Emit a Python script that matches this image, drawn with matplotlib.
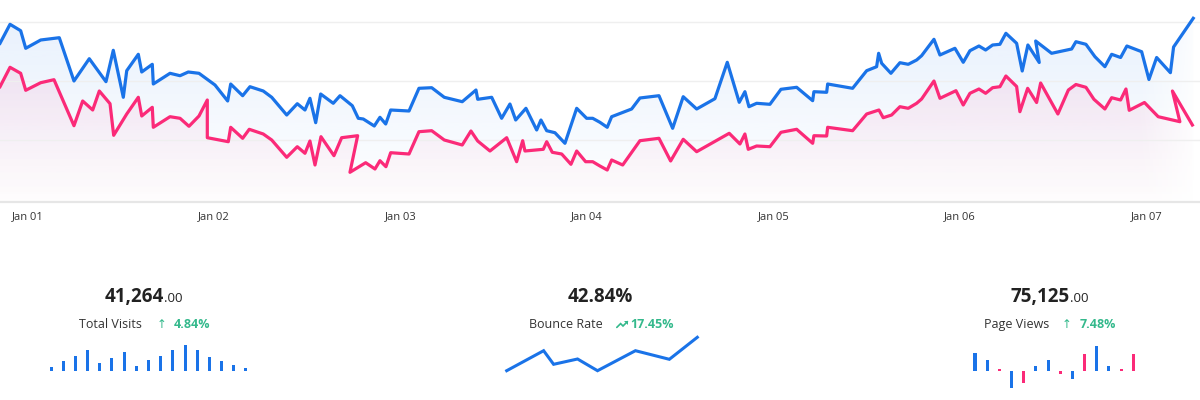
import numpy as np
import matplotlib
matplotlib.use("Agg")
import matplotlib.pyplot as plt
from matplotlib.patches import Polygon
from matplotlib.colors import to_rgb

plt.rcParams['font.family'] = ['Open Sans', 'DejaVu Sans']

# main chart: hours since Jan 01 00:00 and values (gridlines at 59 / 118 / 177)
visits_t = [-3.54, -2.25, -0.88, -0.23, 1.70, 4.09, 5.98, 7.95, 10.10, 11.04,
            12.33, 12.77, 14.26, 14.70, 16.06, 16.19, 18.34, 19.63, 20.69, 22.07,
            24.13, 25.76, 26.15, 27.69, 28.63, 30.34, 31.43, 33.36, 34.72, 35.71,
            36.35, 37.09, 37.73, 39.35, 40.22, 41.80, 42.57, 43.21, 44.63, 45.36,
            46.10, 46.74, 49.10, 50.38, 52.02, 53.64, 55.95, 57.72, 57.94, 59.74,
            61.02, 62.09, 62.83, 64.15, 65.53, 66.08, 66.82, 67.88, 69.17, 70.68,
            71.96, 72.74, 73.67, 74.61, 75.18, 77.75, 78.82, 81.27, 83.03, 84.39,
            86.12, 88.47, 90.06, 91.60, 92.33, 92.85, 93.84, 95.55, 96.97, 98.99,
            101.05, 101.21, 102.85, 102.98, 106.19, 108.00, 109.28, 109.54, 109.93, 111.12,
            112.28, 113.35, 114.43, 115.07, 116.66, 117.43, 119.36, 120.43, 121.29, 122.45,
            123.31, 124.21, 125.15, 125.92, 127.30, 128.02, 128.75, 130.21, 129.75, 131.80,
            134.38, 134.93, 136.22, 137.38, 138.66, 139.53, 140.68, 141.49, 143.39, 144.33,
            145.32, 147.09, 147.50, 150.03]
visits_v = [155.9, 174.9, 168.5, 150.9, 159.2, 161.5, 118.2, 140.5, 117.5, 148.9,
            101.9, 128.5, 144.9, 127.2, 134.9, 115.2, 125.9, 123.5, 127.2, 125.9,
            114.2, 98.2, 115.2, 103.5, 112.5, 108.2, 101.9, 84.2, 95.5, 89.2,
            100.9, 76.5, 105.2, 95.9, 103.5, 93.5, 80.9, 80.2, 73.2, 81.9,
            75.2, 89.2, 88.2, 110.9, 111.5, 101.9, 97.5, 109.2, 99.9, 101.9,
            80.9, 95.2, 79.2, 90.9, 69.2, 79.2, 68.5, 66.5, 55.9, 90.9,
            80.9, 80.9, 76.9, 71.9, 82.5, 90.2, 101.2, 103.5, 70.9, 102.5,
            90.2, 100.5, 136.9, 96.9, 107.5, 92.5, 95.9, 94.9, 109.9, 111.9,
            98.5, 107.5, 106.9, 115.2, 110.9, 128.5, 132.5, 145.9, 135.9, 125.9,
            136.5, 134.9, 139.2, 143.5, 159.9, 144.2, 150.9, 136.9, 148.5, 153.2,
            149.2, 154.2, 154.9, 165.9, 155.9, 128.2, 154.2, 136.7, 158.2, 145.9,
            150.2, 157.5, 154.9, 142.5, 132.5, 144.9, 141.7, 153.2, 147.5, 119.7,
            141.7, 126.5, 152.2, 180.9]

views_t = [-3.54, -2.25, -0.88, -0.23, 1.70, 3.41, 5.98, 7.10, 8.39, 9.24,
           10.62, 11.09, 12.77, 14.26, 14.70, 16.06, 16.19, 18.34, 19.63, 20.78,
           22.07, 23.14, 23.14, 25.84, 26.15, 27.69, 28.54, 30.34, 31.43, 33.36,
           34.72, 35.71, 36.35, 37.00, 37.77, 39.44, 40.43, 42.49, 41.50, 43.52,
           44.72, 45.36, 46.13, 46.74, 49.10, 50.38, 52.02, 53.64, 55.95, 57.07,
           57.94, 59.52, 61.67, 62.95, 63.73, 64.02, 66.38, 66.82, 67.54, 68.75,
           69.94, 70.68, 71.83, 72.74, 73.67, 74.61, 75.18, 76.60, 78.82, 81.27,
           82.77, 84.39, 86.12, 90.31, 91.69, 92.33, 92.76, 93.84, 95.55, 96.97,
           98.99, 101.05, 101.21, 102.85, 102.98, 106.19, 108.00, 109.58, 110.13, 111.21,
           112.28, 113.35, 114.43, 115.07, 116.66, 117.43, 119.49, 120.43, 121.29, 122.45,
           123.31, 124.21, 125.15, 125.92, 127.30, 127.72, 128.72, 129.87, 130.39, 132.61,
           133.96, 134.93, 136.22, 137.25, 138.66, 139.53, 140.68, 141.37, 141.79, 143.75,
           145.52, 148.31, 147.35, 149.92]
views_v = [112.5, 131.9, 125.9, 108.9, 116.5, 119.5, 73.5, 98.2, 89.2, 108.2,
           95.5, 63.9, 85.2, 101.9, 83.2, 91.9, 71.9, 82.5, 80.9, 72.9,
           83.2, 99.2, 61.5, 57.5, 71.9, 60.9, 69.9, 65.2, 59.2, 41.9,
           52.5, 45.9, 58.2, 34.2, 62.5, 43.5, 61.5, 63.5, 26.9, 36.5,
           30.2, 38.5, 32.5, 46.5, 45.2, 67.5, 68.5, 59.2, 54.2, 68.2,
           58.2, 48.2, 61.5, 37.5, 58.5, 48.2, 49.9, 57.5, 46.9, 45.2,
           34.9, 48.2, 37.5, 37.5, 33.2, 29.2, 39.2, 34.2, 58.5, 60.9,
           38.2, 59.9, 47.5, 65.9, 55.2, 65.2, 49.9, 53.2, 52.5, 66.9,
           69.9, 55.9, 63.5, 63.2, 71.9, 68.5, 85.2, 89.2, 81.5, 84.2,
           92.5, 90.9, 95.9, 100.2, 118.2, 100.9, 108.5, 94.2, 105.9, 110.2,
           105.9, 111.5, 112.5, 123.2, 112.7, 87.5, 110.9, 96.7, 116.2, 85.2,
           109.2, 114.7, 111.9, 99.9, 90.2, 101.5, 99.2, 110.2, 88.9, 96.7,
           82.5, 77.5, 108.2, 74.2]

day_ticks = [0, 24, 48, 72, 96, 120, 144]
day_labels = ["Jan 01", "Jan 02", "Jan 03", "Jan 04", "Jan 05", "Jan 06", "Jan 07"]

# KPI cards
kpi_values = ["41,264", "42.84%", "75,125"]
kpi_decimals = [".00", "", ".00"]
kpi_titles = ["Total Visits", "Bounce Rate", "Page Views"]
kpi_changes = ["4.84%", "17.45%", "7.48%"]

tv_bars = [4, 10, 14.7, 20.7, 7.3, 13, 18.3, 4.3, 10.7, 14.7, 20.3, 26, 21, 14, 10, 5.3, 3]
br_x = [0, 3.7, 4.7, 7.1, 9.1, 12.9, 16.3, 19.1]
br_y = [0, 20, 6.4, 11.7, 0, 20, 11.4, 33.4]
pv_bars = [17.3, 10.7, 1.3, -17.7, -12.7, 4.7, 10.7, -3.7, -8.7, 16.7, 24.7, 4.7, 1.3, 16.7]
pv_pink = [0, 0, 1, 0, 1, 0, 0, 1, 0, 1, 0, 0, 1, 1]

BLUE = '#1a73e8'
PINK = '#fb2a78'
GREEN = '#34b98c'
DARK = '#222222'
TXT = '#333333'

W, H = 1200, 400
fig = plt.figure(figsize=(12, 4), dpi=100)
fig.patch.set_facecolor('white')

ymin, ymax = -2.5, 199.2
t0, t1 = -3.54, 150.9
ax = fig.add_axes([0, 1 - 201.7 / H, 1, 201.7 / H])


def grad_fill(t, v, color, a_top, a_bot):
    verts = list(zip(t, v)) + [(t[-1], ymin), (t[0], ymin)]
    poly = Polygon(verts, closed=True, fc='none', ec='none')
    ax.add_patch(poly)
    n = 256
    rgba = np.zeros((n, 1, 4))
    rgba[..., :3] = to_rgb(color)
    rgba[..., 3] = np.linspace(a_top, a_bot, n)[:, None]
    im = ax.imshow(rgba, extent=[t0, t1, ymin, max(v)], aspect='auto',
                   origin='upper', interpolation='bilinear', zorder=1)
    im.set_clip_path(poly)


grad_fill(visits_t, visits_v, BLUE, 0.10, 0.0)
grad_fill(views_t, views_v, PINK, 0.09, 0.01)

# white fade at the right edge
fade = np.ones((1, 64, 4))
fade[..., 3] = np.linspace(0, 1, 64) ** 1.2
ax.imshow(fade, extent=[142.5, t1, ymin, ymax], aspect='auto',
          interpolation='bilinear', zorder=1.5)

ax.plot(visits_t, visits_v, color=BLUE, lw=2.3, solid_joinstyle='round', zorder=3)
ax.plot(views_t, views_v, color=PINK, lw=2.3, solid_joinstyle='round', zorder=3)

ax.set_xlim(t0, t1)
ax.set_ylim(ymin, ymax)
ax.set_yticks([59, 118, 177])
ax.grid(axis='y', color='#efefef', lw=1)
ax.set_axisbelow(False)
ax.set_xticks(day_ticks)
ax.set_xticklabels(day_labels)
ax.tick_params(axis='x', length=0, pad=7, labelsize=8, labelcolor=TXT)
ax.tick_params(axis='y', length=0, labelleft=False)
for s in ['top', 'left', 'right']:
    ax.spines[s].set_visible(False)
ax.spines['bottom'].set_color('#e6e6e6')
ax.spines['bottom'].set_linewidth(1.6)
ax.set_facecolor('white')

# overlay for KPI text (pixel layout)
ov = fig.add_axes([0, 0, 1, 1])
ov.set_xlim(0, W)
ov.set_ylim(H, 0)
ov.axis('off')
ov.patch.set_alpha(0)

num_x = [164, 600, 1070]
for i in range(3):
    if kpi_decimals[i]:
        ov.text(num_x[i], 301.7, kpi_values[i], ha='right', va='baseline',
                fontsize=13.5, fontweight='bold', color=DARK)
        ov.text(num_x[i], 301.7, kpi_decimals[i], ha='left', va='baseline',
                fontsize=9.5, color=DARK)
    else:
        ov.text(num_x[i], 301.7, kpi_values[i], ha='center', va='baseline',
                fontsize=13.5, fontweight='bold', color=DARK)

title_x = [79.3, 529.3, 984]
chg_x = [173.3, 630, 1079.3]
for i in range(3):
    ov.text(title_x[i], 328.3, kpi_titles[i], ha='left', va='baseline',
            fontsize=9, color=TXT)
    ov.text(chg_x[i], 328.3, kpi_changes[i], ha='left', va='baseline',
            fontsize=9, fontweight='bold', color=GREEN)
ov.text(161.5, 328.3, "↑", ha='center', va='baseline', fontsize=8.5, color=GREEN)
ov.text(1066.5, 328.3, "↑", ha='center', va='baseline', fontsize=8.5, color=GREEN)
# trending-up icon
ov.plot([616.8, 620.6, 623.0, 627.4], [327.4, 323.6, 326.0, 321.6],
        color=GREEN, lw=1.2, solid_capstyle='round', solid_joinstyle='miter')
ov.fill([624.2, 628.2, 628.2], [321.0, 321.0, 325.0], color=GREEN, lw=0)

# Total Visits bars
a1 = fig.add_axes([45 / W, 1 - 370.7 / H, 207 / W, 30.7 / H])
a1.bar(range(len(tv_bars)), tv_bars, width=0.25, color=BLUE)
a1.set_xlim(-0.5, len(tv_bars) - 0.5)
a1.set_ylim(0, 30.7)
a1.axis('off')

# Bounce Rate line
a2 = fig.add_axes([506.7 / W, 1 - 370.7 / H, 190.6 / W, 33.4 / H])
a2.plot(br_x, br_y, color=BLUE, lw=2.2, clip_on=False, solid_joinstyle='miter')
a2.set_xlim(0, 19.1)
a2.set_ylim(0, 33.4)
a2.axis('off')

# Page Views bars
a3 = fig.add_axes([968.9 / W, 1 - 390 / H, 170.5 / W, 45 / H])
a3.bar(range(len(pv_bars)), pv_bars, width=0.25,
       color=[PINK if p else BLUE for p in pv_pink])
a3.set_xlim(-0.5, len(pv_bars) - 0.5)
a3.set_ylim(-19.3, 25.7)
a3.axis('off')

fig.savefig('out.png', dpi=100, facecolor='white')
